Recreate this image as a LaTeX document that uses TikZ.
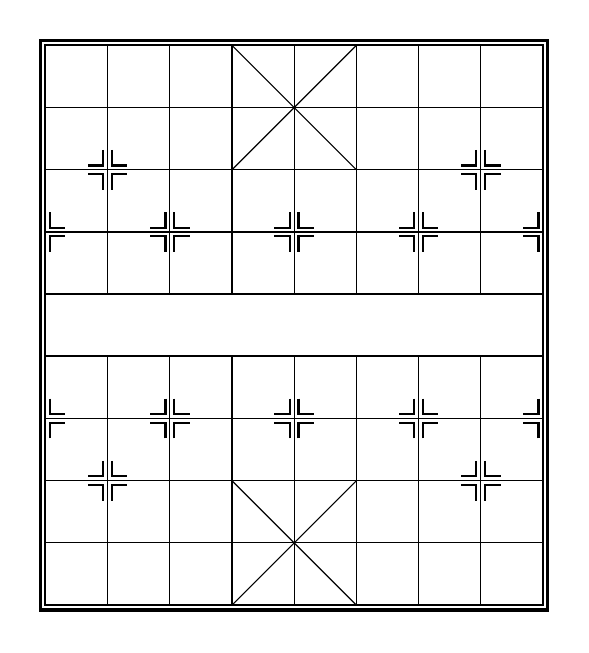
\documentclass[tikz,border=0pt]{standalone}
\usepackage{tikz}

\begin{document}
\begin{tikzpicture}[
        x=1cm, y=1cm,
        gridline/.style={line width=0.5pt},
        riverline/.style={line width=0.9pt},
        frameline/.style={line width=1.6pt},
        corner/.style={line width=1pt}
    ]

    \useasboundingbox (-0.73,-0.77) rectangle (8.74,9.73);

    % frame
    \draw [frameline] (-0.075,-0.075) rectangle (8.075,9.075);
    \draw [riverline] (0,0) rectangle (8,9);

    % ranks and files
    \foreach \r in {1,2,3,6,7,8}
        \draw [gridline] (0,\r) -- (8,\r);
    \draw [riverline] (0,4) -- (8,4);
    \draw [riverline] (0,5) -- (8,5);
    \foreach \f in {1,...,7} {
        \draw [gridline] (\f,0) -- (\f,4);
        \draw [gridline] (\f,5) -- (\f,9);
    }

    % palaces
    \draw [gridline] (3,0) -- (5,2);
    \draw [gridline] (5,0) -- (3,2);
    \draw [gridline] (3,9) -- (5,7);
    \draw [gridline] (5,9) -- (3,7);

    % point markers
    \foreach \px/\py in {1/2,7/2,1/7,7/7,
                         0/3,2/3,4/3,6/3,8/3,
                         0/6,2/6,4/6,6/6,8/6} {
        \ifnum\px<8
            \draw [corner] (\px+0.07,\py+0.32) -- (\px+0.07,\py+0.07) -- (\px+0.32,\py+0.07);
            \draw [corner] (\px+0.07,\py-0.32) -- (\px+0.07,\py-0.07) -- (\px+0.32,\py-0.07);
        \fi
        \ifnum\px>0
            \draw [corner] (\px-0.07,\py+0.32) -- (\px-0.07,\py+0.07) -- (\px-0.32,\py+0.07);
            \draw [corner] (\px-0.07,\py-0.32) -- (\px-0.07,\py-0.07) -- (\px-0.32,\py-0.07);
        \fi
    }

\end{tikzpicture}
\end{document}
